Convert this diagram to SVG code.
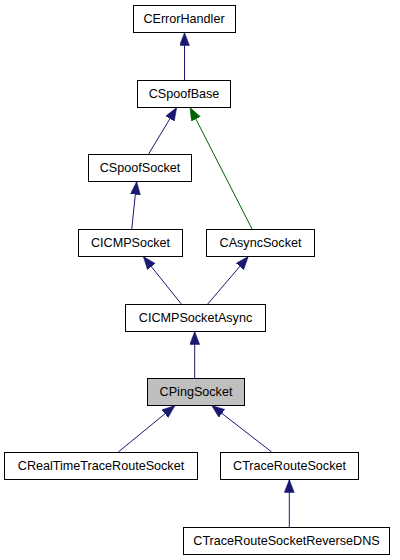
<svg xmlns="http://www.w3.org/2000/svg" width="400" height="560" viewBox="0 0 400 560">
<style>
.node rect{fill:#ffffff;stroke:#000000;stroke-width:1}
.node.cur rect{fill:#bfbfbf}
.node text{font-family:"Liberation Sans",Arial,sans-serif;font-size:12.6px;fill:#000000;text-anchor:middle}
.edge{fill:none;stroke:#191970;stroke-width:1}
.edge.pub{stroke:#006400}
</style>
<defs>
<marker id="ab" markerUnits="userSpaceOnUse" markerWidth="14" markerHeight="11" refX="13" refY="5" orient="auto">
<path d="M0,0 L13,5 L0,10 z" fill="#191970" stroke="#191970" stroke-width="0.5"/>
</marker>
<marker id="ag" markerUnits="userSpaceOnUse" markerWidth="14" markerHeight="11" refX="13" refY="5" orient="auto">
<path d="M0,0 L13,5 L0,10 z" fill="#006400" stroke="#006400" stroke-width="0.5"/>
</marker>
</defs>
<rect x="0" y="0" width="400" height="560" fill="#ffffff"/>
<g id="connectors">
<line class="edge" x1="184.5" y1="80" x2="184.5" y2="32.5" marker-end="url(#ab)"/>
<line class="edge" x1="148.3" y1="154.5" x2="176.7" y2="107.5" marker-end="url(#ab)"/>
<line class="edge pub" x1="252.3" y1="229.5" x2="190" y2="107.5" marker-end="url(#ag)"/>
<line class="edge" x1="131.7" y1="229.5" x2="136.7" y2="181.5" marker-end="url(#ab)"/>
<line class="edge" x1="181.7" y1="304.5" x2="143.3" y2="256.5" marker-end="url(#ab)"/>
<line class="edge" x1="207.3" y1="304.5" x2="248.3" y2="256.5" marker-end="url(#ab)"/>
<line class="edge" x1="194.7" y1="378.5" x2="194.7" y2="331.5" marker-end="url(#ab)"/>
<line class="edge" x1="118.3" y1="452" x2="175" y2="405.5" marker-end="url(#ab)"/>
<line class="edge" x1="271.7" y1="452" x2="211.7" y2="405.5" marker-end="url(#ab)"/>
<line class="edge" x1="289.3" y1="527" x2="289.3" y2="479.5" marker-end="url(#ab)"/>
</g>
<g id="CErrorHandler" class="node"><rect x="133.5" y="5.5" width="102" height="27"/><text x="184" y="23">CErrorHandler</text></g>
<g id="CSpoofBase" class="node"><rect x="137.5" y="80.5" width="93" height="27"/><text x="184" y="98">CSpoofBase</text></g>
<g id="CSpoofSocket" class="node"><rect x="88.5" y="154.5" width="103" height="27"/><text x="140" y="172">CSpoofSocket</text></g>
<g id="CICMPSocket" class="node"><rect x="78.5" y="229.5" width="104" height="27"/><text x="130.5" y="247">CICMPSocket</text></g>
<g id="CAsyncSocket" class="node"><rect x="206.5" y="229.5" width="108" height="27"/><text x="260.5" y="247">CAsyncSocket</text></g>
<g id="CICMPSocketAsync" class="node"><rect x="125.5" y="304.5" width="140" height="27"/><text x="195.5" y="322">CICMPSocketAsync</text></g>
<g id="CPingSocket" class="node cur"><rect x="147.5" y="378.5" width="97" height="27"/><text x="196" y="396">CPingSocket</text></g>
<g id="CRealTimeTraceRouteSocket" class="node"><rect x="4.5" y="452.5" width="193" height="27"/><text x="101" y="470">CRealTimeTraceRouteSocket</text></g>
<g id="CTraceRouteSocket" class="node"><rect x="220.5" y="452.5" width="138" height="27"/><text x="289.5" y="470">CTraceRouteSocket</text></g>
<g id="CTraceRouteSocketReverseDNS" class="node"><rect x="183.5" y="527.5" width="206" height="27"/><text x="286.5" y="545">CTraceRouteSocketReverseDNS</text></g>
</svg>
